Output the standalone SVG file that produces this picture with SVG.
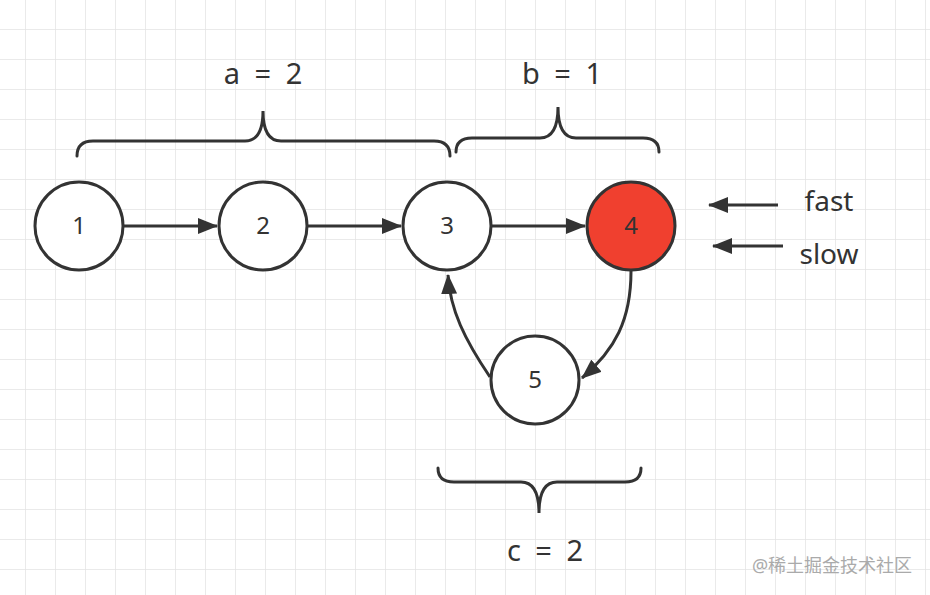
<svg xmlns="http://www.w3.org/2000/svg" width="930" height="595" viewBox="0 0 930 595">
<defs>
<pattern id="grid" x="25" y="29" width="30" height="30" patternUnits="userSpaceOnUse">
<path d="M0 0 H30 M0 0 V30" fill="none" stroke="#e4e4e4" stroke-width="1.5"/>
</pattern>
<marker id="ah" viewBox="0 0 20 16" refX="19" refY="8" markerWidth="20" markerHeight="16" markerUnits="userSpaceOnUse" orient="auto">
<path d="M0 0 L20 8 L0 16 Z" fill="#333"/>
</marker>
<style>
.node circle{stroke:#333;stroke-width:3;fill:#fff}
.node text{font-family:"Noto Sans","Open Sans",sans-serif;font-size:24px;fill:#333;text-anchor:middle}
.edge{fill:none;stroke:#333;stroke-width:3;marker-end:url(#ah)}
.brace{fill:none;stroke:#333;stroke-width:3;stroke-linecap:round}
.lbl{font-family:"Noto Sans","Open Sans",sans-serif;font-size:29px;fill:#333;text-anchor:middle;word-spacing:7px}
</style>
</defs>
<rect width="930" height="595" fill="#fff"/>
<rect width="930" height="595" fill="url(#grid)"/>
<g id="connectors">
<path class="edge" d="M124 226 L217 226"/>
<path class="edge" d="M308 226 L401 226"/>
<path class="edge" d="M492 226 L585 226"/>
<path class="edge" d="M631 271 C631 320 615 350 582 378"/>
<path class="edge" d="M490 377 C465 340 450 310 448 275"/>
<path class="edge" d="M778 205 L709 205"/>
<path class="edge" d="M783 246 L713 246"/>
</g>
<g id="braces">
<path class="brace" d="M77 156 Q77 141 93 141 L245 141 Q263 141 263 111 Q263 141 281 141 L434 141 Q450 141 450 156"/>
<path class="brace" d="M456 152 Q456 138 472 138 L540 138 Q558 138 558 107 Q558 138 576 138 L643 138 Q659 138 659 152"/>
<path class="brace" d="M438 468 Q438 482 454 482 L521 482 Q539 482 539 513 Q539 482 557 482 L625 482 Q641 482 641 468"/>
</g>
<g id="labels">
<text class="lbl" x="263" y="84">a = 2</text>
<text class="lbl" x="562" y="84">b = 1</text>
<text class="lbl" x="545" y="561">c = 2</text>
<text class="lbl" x="829" y="211" style="font-size:28px">fast</text>
<text class="lbl" x="829" y="264" style="font-size:28px">slow</text>
</g>
<g id="node1" class="node"><circle cx="79" cy="226" r="44"/><text x="79" y="234">1</text></g>
<g id="node2" class="node"><circle cx="263" cy="226" r="44"/><text x="263" y="234">2</text></g>
<g id="node3" class="node"><circle cx="447" cy="226" r="44"/><text x="447" y="234">3</text></g>
<g id="node4" class="node"><circle cx="631" cy="226" r="44" style="fill:#f0402f"/><text x="631" y="234">4</text></g>
<g id="node5" class="node"><circle cx="535" cy="380" r="44"/><text x="535" y="388">5</text></g>
<text x="832" y="572" style="font-family:'Noto Sans','Noto Sans CJK SC',sans-serif;font-size:18px;fill:#aaa;text-anchor:middle">@稀土掘金技术社区</text>
</svg>
